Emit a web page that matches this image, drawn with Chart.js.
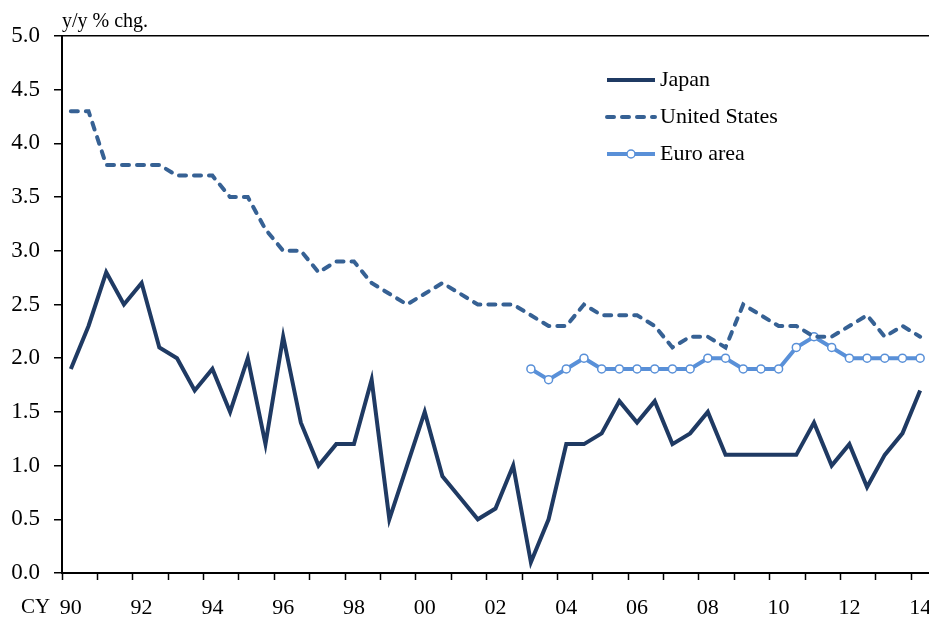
<!DOCTYPE html>
<html>
<head>
<meta charset="utf-8">
<script src="https://cdn.jsdelivr.net/npm/chart.js@4.4.0/dist/chart.umd.min.js"></script>
<style>
    html, body { margin: 0; padding: 0; background: #fff; }
    canvas { display: block; }
</style>
</head>
<body>
<canvas id="myChart" width="929" height="619"></canvas>
<script>
// half-year periods, CY 1990 to 2014
const periods = [
    '90H1', '90H2', '91H1', '91H2', '92H1', '92H2', '93H1', '93H2',
    '94H1', '94H2', '95H1', '95H2', '96H1', '96H2', '97H1', '97H2',
    '98H1', '98H2', '99H1', '99H2', '00H1', '00H2', '01H1', '01H2',
    '02H1', '02H2', '03H1', '03H2', '04H1', '04H2', '05H1', '05H2',
    '06H1', '06H2', '07H1', '07H2', '08H1', '08H2', '09H1', '09H2',
    '10H1', '10H2', '11H1', '11H2', '12H1', '12H2', '13H1', '13H2',
    '14H1',
];

const tickLabels = ['90', '92', '94', '96', '98', '00', '02', '04', '06', '08', '10', '12', '14'];

const japan = [
    1.9, 2.3, 2.8, 2.5, 2.7, 2.1, 2.0, 1.7, 1.9, 1.5, 2.0, 1.2, 2.2, 1.4, 1.0, 1.2,
    1.2, 1.8, 0.5, 1.0, 1.5, 0.9, 0.7, 0.5, 0.6, 1.0, 0.1, 0.5, 1.2, 1.2, 1.3, 1.6,
    1.4, 1.6, 1.2, 1.3, 1.5, 1.1, 1.1, 1.1, 1.1, 1.1, 1.4, 1.0, 1.2, 0.8, 1.1, 1.3,
    1.7,
];

const unitedStates = [
    4.3, 4.3, 3.8, 3.8, 3.8, 3.8, 3.7, 3.7, 3.7, 3.5, 3.5, 3.2, 3.0, 3.0, 2.8, 2.9,
    2.9, 2.7, 2.6, 2.5, 2.6, 2.7, 2.6, 2.5, 2.5, 2.5, 2.4, 2.3, 2.3, 2.5, 2.4, 2.4,
    2.4, 2.3, 2.1, 2.2, 2.2, 2.1, 2.5, 2.4, 2.3, 2.3, 2.2, 2.2, 2.3, 2.4, 2.2, 2.3,
    2.2,
];

// euro area series starts in 2003
const euroArea = [
    null, null, null, null, null, null, null, null, null, null, null, null, null,
    null, null, null, null, null, null, null, null, null, null, null, null, null,
    1.9, 1.8, 1.9, 2.0, 1.9, 1.9, 1.9, 1.9, 1.9, 1.9, 2.0, 2.0, 1.9, 1.9, 1.9, 2.1,
    2.2, 2.1, 2.0, 2.0, 2.0, 2.0, 2.0,
];

const FONT = '"Liberation Serif", "Times New Roman", serif';
const clear = 'rgba(0,0,0,0)';

const extraText = {
    id: 'extraText',
    afterDraw(chart) {
        const ctx = chart.ctx;
        ctx.save();
        ctx.fillStyle = '#000';
        ctx.textAlign = 'left';
        ctx.textBaseline = 'alphabetic';
        ctx.font = '20px ' + FONT;
        ctx.fillText('y/y % chg.', 62, 27);

        ctx.font = '21px ' + FONT;
        ctx.textBaseline = 'middle';
        ctx.fillText('CY', 21, 607);

        // legend
        const items = chart.data.datasets;
        const rows = [80, 117, 154];
        ctx.font = '22px ' + FONT;
        for (let i = 0; i < items.length; i++) {
            let ds = items[i];
            let y = rows[i];
            ctx.save();
            ctx.strokeStyle = ds.borderColor;
            ctx.lineWidth = ds.borderWidth;
            ctx.lineCap = ds.borderCapStyle || 'butt';
            ctx.setLineDash(ds.borderDash || []);
            ctx.beginPath();
            ctx.moveTo(607, y);
            ctx.lineTo(655, y);
            ctx.stroke();
            ctx.restore();
            if (ds.pointRadius > 0) {
                ctx.beginPath();
                ctx.arc(631, y, ds.pointRadius, 0, Math.PI * 2);
                ctx.fillStyle = ds.pointBackgroundColor;
                ctx.fill();
                ctx.lineWidth = ds.pointBorderWidth;
                ctx.strokeStyle = ds.pointBorderColor;
                ctx.stroke();
            }
            ctx.fillStyle = '#000';
            ctx.fillText(ds.label, 660, y);
        }
        ctx.restore();
    }
};

const data = {
    labels: periods,
    datasets: [{
        label: 'Japan',
        data: japan,
        borderColor: '#1f3a63',
        backgroundColor: '#1f3a63',
        borderWidth: 4,
        pointRadius: 0,
        borderJoinStyle: 'miter',
        tension: 0,
    }, {
        label: 'United States',
        data: unitedStates,
        borderColor: '#366194',
        backgroundColor: '#366194',
        borderWidth: 4,
        borderDash: [7, 8],
        borderCapStyle: 'round',
        pointRadius: 0,
        tension: 0,
    }, {
        label: 'Euro area',
        data: euroArea,
        borderColor: '#5990d8',
        backgroundColor: '#5990d8',
        borderWidth: 4,
        pointRadius: 4,
        pointBackgroundColor: '#fff',
        pointBorderColor: '#5990d8',
        pointBorderWidth: 1.5,
        tension: 0,
        spanGaps: false,
    }]
};

const config = {
    type: 'line',
    data: data,
    options: {
        responsive: false,
        animation: false,
        layout: {
            autoPadding: false,
            padding: { top: 36, right: 0, left: 0, bottom: 0 },
        },
        plugins: {
            legend: { display: false },
            tooltip: { enabled: false },
        },
        scales: {
            x: {
                offset: true,
                border: { color: '#000', width: 2 },
                grid: {
                    offset: true,
                    drawOnChartArea: false,
                    tickLength: 7,
                    tickWidth: 1.5,
                    tickColor: (c) => c.index % 2 === 0 ? '#000' : clear,
                },
                ticks: {
                    autoSkip: false,
                    maxRotation: 0,
                    padding: 15,
                    color: '#000',
                    font: { family: FONT, size: 22 },
                    callback: (v, i) => i % 4 === 0 ? tickLabels[i / 4] : '',
                },
                afterFit: (scale) => {
                    scale.height = 46;
                    scale.paddingLeft = 0;
                    scale.paddingRight = 0;
                },
            },
            y: {
                min: 0,
                max: 5,
                border: { color: '#000', width: 2 },
                grid: {
                    color: (c) => c.tick && c.tick.value === 5 ? '#000' : clear,
                    lineWidth: 1.5,
                    tickColor: '#000',
                    tickLength: 8,
                    tickWidth: 1.5,
                },
                ticks: {
                    stepSize: 0.5,
                    padding: 14,
                    color: '#000',
                    font: { family: FONT, size: 23 },
                    callback: (v) => v.toFixed(1),
                },
                afterFit: (scale) => {
                    scale.width = 62;
                    scale.paddingTop = 0;
                    scale.paddingBottom = 0;
                },
            },
        },
    },
    plugins: [extraText],
};

const myChart = new Chart(document.getElementById('myChart'), config);
</script>
</body>
</html>
